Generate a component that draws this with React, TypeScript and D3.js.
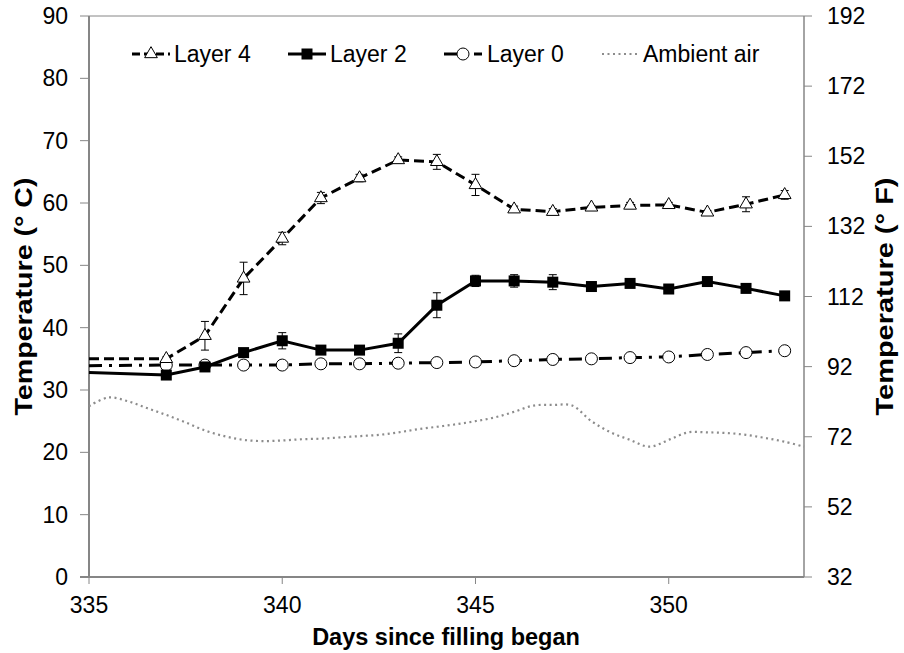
import React from "react";
import * as d3 from "d3";

const days = [335, 337, 338, 339, 340, 341, 342, 343, 344, 345, 346, 347, 348, 349, 350, 351, 352, 353];
const layer4 = [35.0, 35.0, 38.7, 47.9, 54.3, 60.8, 64.0, 66.9, 66.6, 62.9, 59.0, 58.6, 59.3, 59.6, 59.7, 58.5, 59.8, 61.3];
const layer4Err = [0, 0.3, 2.3, 2.6, 1.0, 0.9, 0.6, 0.5, 1.2, 1.7, 0.5, 0.5, 0.3, 0.5, 0.4, 0.3, 1.2, 0.7];
const layer2 = [32.8, 32.4, 33.7, 36.0, 37.9, 36.4, 36.4, 37.5, 43.6, 47.5, 47.5, 47.3, 46.6, 47.1, 46.2, 47.4, 46.3, 45.1];
const layer2Err = [0, 0.3, 0.4, 0.4, 1.3, 0.4, 0.7, 1.5, 2.0, 0.9, 1.0, 1.2, 0.4, 0.5, 0.4, 0.4, 0.4, 0.4];
const layer0 = [33.9, 34.0, 34.0, 34.0, 34.0, 34.2, 34.2, 34.3, 34.4, 34.5, 34.7, 34.9, 35.0, 35.2, 35.3, 35.7, 36.0, 36.3];

const ambientDays = [335, 335.5, 336, 336.5, 337, 337.5, 338, 338.5, 339, 339.5, 340, 340.5, 341, 341.5, 342, 342.5, 343, 343.5, 344, 344.5, 345, 345.5, 346, 346.5, 347, 347.5, 348, 348.5, 349, 349.5, 350, 350.5, 351, 351.5, 352, 352.5, 353, 353.5];
const ambient = [27.4, 28.8, 28.2, 27.1, 26.0, 24.8, 23.5, 22.6, 22.0, 21.8, 21.9, 22.1, 22.2, 22.4, 22.6, 22.8, 23.2, 23.7, 24.1, 24.5, 25.0, 25.6, 26.5, 27.5, 27.6, 27.5, 25.0, 23.2, 22.0, 20.9, 22.0, 23.2, 23.2, 23.1, 22.8, 22.3, 21.7, 20.9];

const xTicks = [335, 340, 345, 350];
const yTicksC = [0, 10, 20, 30, 40, 50, 60, 70, 80, 90];
const yTicksF = [32, 52, 72, 92, 112, 132, 152, 172, 192];

const seriesNames = ["Layer 4", "Layer 2", "Layer 0", "Ambient air"];

const W = 904, H = 653;
const L = 89, R = 804, T = 16, B = 577;
const FONT = "'Liberation Sans', Arial, sans-serif";
const AXIS = "#868686";

export default function App() {
  const x = d3.scaleLinear().domain([335, 353.5]).range([L, R]);
  const y = d3.scaleLinear().domain([0, 90]).range([B, T]);
  const yF = d3.scaleLinear().domain([32, 192]).range([B, T]);

  const line = d3.line<number>().x((_, i) => x(days[i])).y((v) => y(v));
  const ambLine = d3
    .line<number>()
    .x((_, i) => x(ambientDays[i]))
    .y((v) => y(v))
    .curve(d3.curveCatmullRom.alpha(0.5));

  const dash4 = "10,5";
  const dash0 = "13,7,3,7";

  const tri = d3.symbol().type(d3.symbolTriangle).size(70)();
  const sq = (cx: number, cy: number, k: string) => (
    <rect key={k} x={cx - 5.5} y={cy - 5.5} width={11} height={11} fill="#000" />
  );

  const errBars = (vals: number[], errs: number[], key: string) =>
    vals.map((v, i) =>
      errs[i] > 0.25 ? (
        <g key={key + i} stroke="#000" strokeWidth={1}>
          <line x1={x(days[i])} x2={x(days[i])} y1={y(v - errs[i])} y2={y(v + errs[i])} />
          <line x1={x(days[i]) - 4} x2={x(days[i]) + 4} y1={y(v - errs[i])} y2={y(v - errs[i])} />
          <line x1={x(days[i]) - 4} x2={x(days[i]) + 4} y1={y(v + errs[i])} y2={y(v + errs[i])} />
        </g>
      ) : null
    );

  const legY = 54;
  const legItems = [132, 288, 444, 602];
  const midY = (T + B) / 2;

  return (
    <svg
      width={W}
      height={H}
      style={{ position: "absolute", left: 0, top: 0, background: "#fff" }}
      fontFamily={FONT}
    >
      <rect x={0} y={0} width={W} height={H} fill="#fff" />
      {/* plot border */}
      <line x1={L} x2={R} y1={T} y2={T} stroke={AXIS} strokeWidth={1} />
      {/* left axis */}
      <line x1={L} x2={L} y1={T} y2={B} stroke={AXIS} strokeWidth={2} />
      {yTicksC.map((t) => (
        <g key={"yc" + t}>
          <line x1={L - 9} x2={L} y1={y(t)} y2={y(t)} stroke={AXIS} strokeWidth={1} />
          <text x={68} y={y(t) + 8} textAnchor="end" fontSize={23} fill="#000">
            {t}
          </text>
        </g>
      ))}
      {/* right axis */}
      <line x1={R} x2={R} y1={T} y2={B} stroke={AXIS} strokeWidth={1.5} />
      {yTicksF.map((t) => (
        <g key={"yf" + t}>
          <line x1={R} x2={R + 8} y1={yF(t)} y2={yF(t)} stroke={AXIS} strokeWidth={1} />
          <text x={827} y={yF(t) + 8} textAnchor="start" fontSize={23} fill="#000">
            {t}
          </text>
        </g>
      ))}
      {/* bottom axis */}
      <line x1={L - 9} x2={R} y1={B} y2={B} stroke={AXIS} strokeWidth={2} />
      {xTicks.map((t) => (
        <g key={"x" + t}>
          <line x1={x(t)} x2={x(t)} y1={B} y2={B + 7} stroke={AXIS} strokeWidth={1} />
          <text x={x(t)} y={613} textAnchor="middle" fontSize={23} fill="#000">
            {t}
          </text>
        </g>
      ))}

      {/* titles */}
      <text x={446} y={645} textAnchor="middle" fontSize={23.5} fontWeight="bold" fill="#000">
        Days since filling began
      </text>
      <text
        transform={`translate(32,${midY}) rotate(-90)`}
        textAnchor="middle"
        fontSize={23}
        fontWeight="bold"
        fill="#000"
        textLength={238}
        lengthAdjust="spacingAndGlyphs"
      >
        Temperature (° C)
      </text>
      <text
        transform={`translate(893,${midY}) rotate(-90)`}
        textAnchor="middle"
        fontSize={23}
        fontWeight="bold"
        fill="#000"
        textLength={238}
        lengthAdjust="spacingAndGlyphs"
      >
        Temperature (° F)
      </text>

      {/* ambient */}
      <path d={ambLine(ambient) || ""} fill="none" stroke="#8c8c8c" strokeWidth={2.2} strokeDasharray="2,3.5" />

      {/* layer 0 */}
      <path d={line(layer0) || ""} fill="none" stroke="#000" strokeWidth={3} strokeDasharray={dash0} />
      {layer0.map((v, i) =>
        i > 0 ? <circle key={"c" + i} cx={x(days[i])} cy={y(v)} r={6} fill="#fff" stroke="#000" strokeWidth={1} /> : null
      )}

      {/* layer 2 */}
      {errBars(layer2, layer2Err, "e2")}
      <path d={line(layer2) || ""} fill="none" stroke="#000" strokeWidth={3} />
      {layer2.map((v, i) => (i > 0 ? sq(x(days[i]), y(v), "s" + i) : null))}

      {/* layer 4 */}
      {errBars(layer4, layer4Err, "e4")}
      <path d={line(layer4) || ""} fill="none" stroke="#000" strokeWidth={3} strokeDasharray={dash4} />
      {layer4.map((v, i) =>
        i > 0 ? (
          <path
            key={"t" + i}
            d={tri || ""}
            transform={`translate(${x(days[i])},${y(v)})`}
            fill="#fff"
            stroke="#000"
            strokeWidth={1}
          />
        ) : null
      )}

      {/* legend */}
      <g>
        <line x1={legItems[0]} x2={legItems[0] + 38} y1={legY} y2={legY} stroke="#000" strokeWidth={3} strokeDasharray="8,4" />
        <path d={tri || ""} transform={`translate(${legItems[0] + 19},${legY})`} fill="#fff" stroke="#000" strokeWidth={1} />
        <text x={legItems[0] + 42} y={legY + 8} fontSize={23} fill="#000">{seriesNames[0]}</text>

        <line x1={legItems[1]} x2={legItems[1] + 38} y1={legY} y2={legY} stroke="#000" strokeWidth={3} />
        {sq(legItems[1] + 19, legY, "ls")}
        <text x={legItems[1] + 42} y={legY + 8} fontSize={23} fill="#000">{seriesNames[1]}</text>

        <line x1={legItems[2]} x2={legItems[2] + 38} y1={legY} y2={legY} stroke="#000" strokeWidth={3} strokeDasharray={dash0} />
        <circle cx={legItems[2] + 19} cy={legY} r={6} fill="#fff" stroke="#000" strokeWidth={1} />
        <text x={legItems[2] + 43} y={legY + 8} fontSize={23} fill="#000">{seriesNames[2]}</text>

        <line x1={legItems[3]} x2={legItems[3] + 36} y1={legY} y2={legY} stroke="#8c8c8c" strokeWidth={2.2} strokeDasharray="2,3.5" />
        <text x={legItems[3] + 41} y={legY + 8} fontSize={23} fill="#000">{seriesNames[3]}</text>
      </g>
    </svg>
  );
}
